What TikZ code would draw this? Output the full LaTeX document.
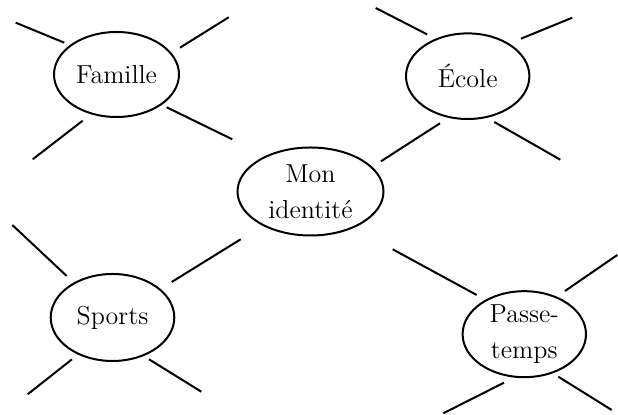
\documentclass[tikz,border=0pt]{standalone}
\usetikzlibrary{shapes.geometric}
\begin{document}
\begin{tikzpicture}[x=0.5pt,y=-0.5pt,
  topic/.style={ellipse,draw,line width=1pt,inner sep=0.5pt,align=center,
    font=\fontsize{13}{18}\selectfont,text=black},
  spoke/.style={line width=1pt,black}]
\useasboundingbox (0,0) rectangle (618,415);
% nodes
\node[topic,minimum width=62.5pt,minimum height=42.5pt] (fam) at (116.5,74.5) {Famille};
\node[topic,minimum width=61.7pt,minimum height=42.8pt] (eco) at (467.7,76.2) {École};
\node[topic,minimum width=73pt,minimum height=44pt] (mon) at (310.5,191.5) {Mon\\identité};
\node[topic,minimum width=61.8pt,minimum height=43.5pt] (spo) at (112.5,317.5) {Sports};
\node[topic,minimum width=61.7pt,minimum height=42.5pt] (pas) at (524.3,334.2) {Passe-\\temps};
% spoke end points
\coordinate (f1a) at (15.7,22.7);   \coordinate (f1b) at (64.3,42.7);
\coordinate (f2a) at (180,47.7);    \coordinate (f2b) at (228.7,17.3);
\coordinate (f3a) at (82.7,120.7);  \coordinate (f3b) at (32.7,159.3);
\coordinate (f4a) at (166.7,107.3); \coordinate (f4b) at (232.3,139.3);
\coordinate (e1a) at (375.7,8);     \coordinate (e1b) at (427,34.3);
\coordinate (e2a) at (521,38.7);    \coordinate (e2b) at (572.3,17.7);
\coordinate (e3a) at (440,123.3);   \coordinate (e3b) at (381,161.3);
\coordinate (e4a) at (494.3,122);   \coordinate (e4b) at (560.3,159.7);
\coordinate (s1a) at (12.3,225);    \coordinate (s1b) at (66.7,276);
\coordinate (s2a) at (171.7,282);   \coordinate (s2b) at (240.7,239.3);
\coordinate (s3a) at (72,359.3);    \coordinate (s3b) at (27.7,394.3);
\coordinate (s4a) at (149,359.3);   \coordinate (s4b) at (201.3,391.7);
\coordinate (p1a) at (392.7,249.3); \coordinate (p1b) at (476.7,295);
\coordinate (p2a) at (565,291);     \coordinate (p2b) at (617.3,255);
\coordinate (p3a) at (504,382.7);   \coordinate (p3b) at (443.3,413.3);
\coordinate (p4a) at (558.3,376.7); \coordinate (p4b) at (611.7,410);
% spokes
\foreach \s in {f1,f2,f3,f4,e1,e2,e3,e4,s1,s2,s3,s4,p1,p2,p3,p4}
  \draw[spoke] (\s a) -- (\s b);
\end{tikzpicture}
\end{document}
